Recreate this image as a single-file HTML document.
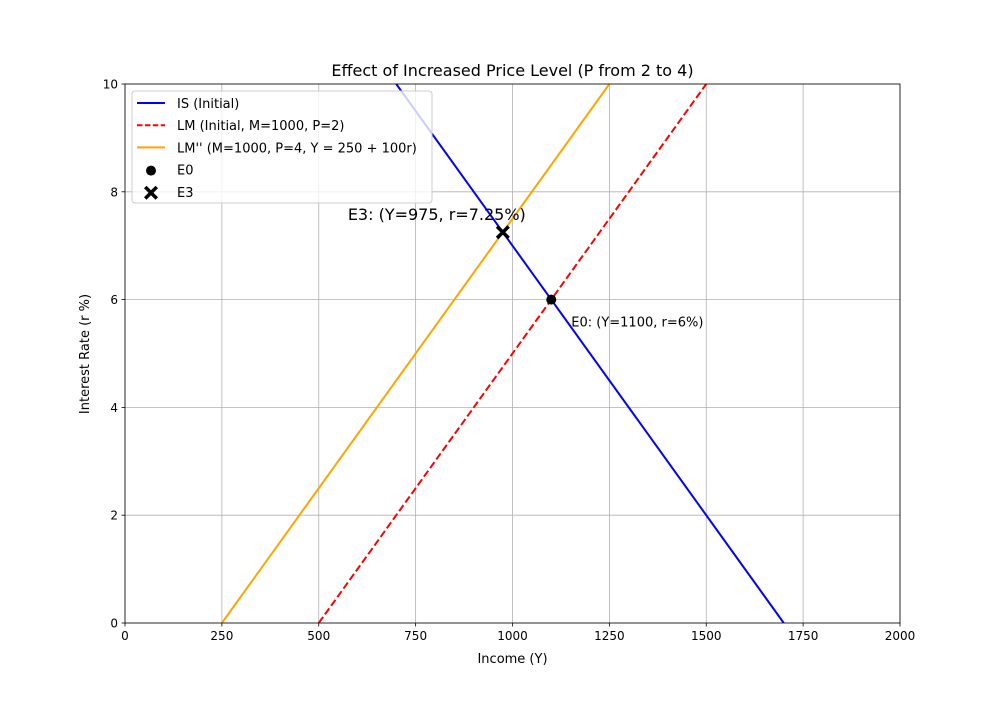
<!DOCTYPE html>
<html><head><meta charset="utf-8"><style>
body{margin:0;background:#fff;}
svg text{font-family:"DejaVu Sans","Liberation Sans",sans-serif;}
</style></head><body>
<svg id="c" width="1000" height="700" xmlns="http://www.w3.org/2000/svg"></svg>
<script>
const xTicks=[0,250,500,750,1000,1250,1500,1750,2000];
const yTicks=[0,2,4,6,8,10];
const isR=[10,0]; const isY=[700,1700];
const lmR=[0,10]; const lmY=[500,1500];
const lm2R=[0,10]; const lm2Y=[250,1250];
const e0=[1100,6]; const e3=[975,7.25];
const L=125,R=900,T=84,B=623;
const sx=v=>L+(v-0)/(2000-0)*(R-L);
const sy=v=>B-(v-0)/(10-0)*(B-T);
const svg=document.getElementById('c');
const NS='http://www.w3.org/2000/svg';
function el(tag,attrs,name,parent){const e=document.createElementNS(NS,tag);for(const k in attrs)e.setAttribute(k,attrs[k]);


(parent||svg).appendChild(e);return e;}
function txt(x,y,s,size,anchor,name,extra){const t=el('text',Object.assign({x:x,y:y,'font-size':size,'text-anchor':anchor||'start',fill:'#000'},extra||{}),name);t.textContent=s;return t;}
el('rect',{x:L,y:T,width:R-L,height:B-T,fill:'#fff'},'plot-area');
const g=el('g',{},'grid');
xTicks.forEach(v=>{el('line',{x1:sx(v),x2:sx(v),y1:T,y2:B,stroke:'#b0b0b0','stroke-width':0.8},'x-gridline',g);
el('line',{x1:sx(v),x2:sx(v),y1:B,y2:B+3.5,stroke:'#000','stroke-width':0.8},'x-tick');
txt(sx(v),B+17,String(v),12,'middle','x-tick-label');});
yTicks.forEach(v=>{el('line',{x1:L,x2:R,y1:sy(v),y2:sy(v),stroke:'#b0b0b0','stroke-width':0.8},'y-gridline',g);
el('line',{x1:L-3.5,x2:L,y1:sy(v),y2:sy(v),stroke:'#000','stroke-width':0.8},'y-tick');
txt(L-7,sy(v)+4.5,String(v),12,'end','y-tick-label');});
const defs=el('defs',{},'defs');const cp=el('clipPath',{id:'clip'},'clip',defs);el('rect',{x:L,y:T,width:R-L,height:B-T},'clip-rect',cp);
function line(ys,rs,color,dash,name){const pts=ys.map((y,i)=>sx(y)+','+sy(rs[i])).join(' ');
const a={points:pts,fill:'none',stroke:color,'stroke-width':2,'clip-path':'url(#clip)'};if(dash)a['stroke-dasharray']=dash;el('polyline',a,name);}
line(isY,isR,'#0000ff',null,'is-curve');
line(lmY,lmR,'#ff0000','7.4,3.2','lm-curve');
line(lm2Y,lm2R,'#ffa500',null,'lm2-curve');
el('circle',{cx:sx(e0[0]),cy:sy(e0[1]),r:5,fill:'#000'},'e0-point');
function xmark(cx,cy,s,name){const p=`M${cx-s},${cy-s+2.5}L${cx-s+2.5},${cy-s}L${cx},${cy-2.5}L${cx+s-2.5},${cy-s}L${cx+s},${cy-s+2.5}L${cx+2.5},${cy}L${cx+s},${cy+s-2.5}L${cx+s-2.5},${cy+s}L${cx},${cy+2.5}L${cx-s+2.5},${cy+s}L${cx-s},${cy+s-2.5}L${cx-2.5},${cy}Z`;el('path',{d:p,fill:'#000'},name);}
xmark(sx(e3[0]),sy(e3[1]),7,'e3-point');
txt(sx(e0[0])+20,sy(e0[1])+27,'E0: (Y=1100, r=6%)',13,'start','e0-label');
txt(sx(e3[0])-155,sy(e3[1])-12,'E3: (Y=975, r=7.25%)',16,'start','e3-label');
el('rect',{x:L,y:T,width:R-L,height:B-T,fill:'none',stroke:'#000','stroke-width':0.8},'axes-frame');
txt((L+R)/2,76,'Effect of Increased Price Level (P from 2 to 4)',16,'middle','chart-title');
txt((L+R)/2,663,'Income (Y)',13,'middle','x-axis-title');
txt(89,354,'Interest Rate (r %)',13,'middle','y-axis-title',{transform:'rotate(-90 89 354)'});
const lg=el('g',{},'legend');
el('rect',{x:132,y:91,width:300,height:112,rx:3,fill:'#fff','fill-opacity':0.8,stroke:'#ccc'},'legend-box',lg);
const items=[['IS (Initial)','#0000ff',null,'line'],['LM (Initial, M=1000, P=2)','#ff0000','5.5,2.4','line'],["LM'' (M=1000, P=4, Y = 250 + 100r)",'#ffa500',null,'line'],['E0','#000',null,'dot'],['E3','#000',null,'x']];
items.forEach((it,i)=>{const y=103+i*22.2;
if(it[3]==='line'){const a={x1:137,x2:165,y1:y,y2:y,stroke:it[1],'stroke-width':2};if(it[2])a['stroke-dasharray']=it[2];el('line',a,'legend-swatch',lg);}
else if(it[3]==='dot')el('circle',{cx:151,cy:y+1,r:5,fill:'#000'},'legend-swatch',lg);
else xmark(151,y+1,7,'legend-swatch');
const t=txt(177,y+5,it[0],13,'start','legend-entry');lg.appendChild(t);});
</script>
</body></html>
